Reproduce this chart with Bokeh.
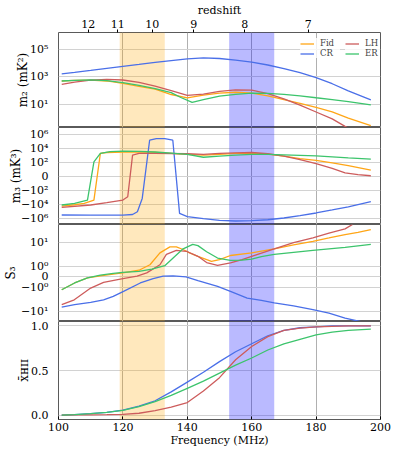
import numpy as np
from bokeh.plotting import figure
from bokeh.layouts import column
from bokeh.models import (Range1d, FixedTicker, BoxAnnotation, Legend,
                          LegendItem, LinearAxis, CustomJSTickFormatter)
from bokeh.embed import file_html
from bokeh.resources import INLINE

FONT = "DejaVu Serif"
C_FID, C_CR, C_LH, C_ER = "#ffa617", "#4a6fe8", "#cd5c5c", "#3cc46c"

# ---------------- data ----------------
# panel 1: m2 (mK^2)
f_m2_fid = [101, 105, 110, 115, 120, 125, 130, 135, 140, 145, 150, 155, 160, 165, 170, 175, 180, 185, 190, 197]
m2_fid = [500, 550, 575, 500, 331, 200, 126, 52, 30, 47, 66, 76, 66, 42, 22, 12, 6.0, 2.8, 1.0, 0.29]
f_m2_cr = [101, 105, 110, 115, 120, 125, 130, 135, 140, 145, 150, 155, 160, 165, 170, 175, 180, 185, 190, 197]
m2_cr = [1660, 2140, 2950, 4170, 5750, 7940, 11200, 15100, 20000, 24000, 21400, 16600, 11500, 7240, 3980, 2000, 891, 316, 95, 21]
f_m2_lh = [101, 105, 110, 115, 120, 125, 130, 135, 140, 145, 150, 155, 160, 165, 170, 175, 180, 185, 189, 191]
m2_lh = [288, 417, 575, 661, 589, 398, 209, 100, 45, 56, 89, 112, 107, 60, 25, 8.9, 2.8, 0.89, 0.25, 0.14]
f_m2_er = [101, 105, 110, 115, 120, 125, 130, 135, 138, 141.5, 145, 150, 155, 160, 165, 170, 175, 180, 185, 190, 197]
m2_er = [500, 562, 603, 525, 380, 240, 141, 71, 31.6, 14.1, 22.4, 39.8, 52.5, 64.6, 63.1, 53.7, 41.7, 30.2, 22.4, 15.8, 9.3]

# panel 2: m3 (mK^3)
f_m3_fid = [101, 105, 108, 111, 113, 115, 120, 125, 130, 135, 140, 145, 150, 155, 160, 165, 170, 175, 180, 185, 190, 197]
m3_fid = [-19500, -12600, -7940, -2690, 1740, 2400, 2820, 2950, 2510, 1780, 1260, 1000, 1260, 1740, 1740, 1410, 708, 316, 178, 79, 32, 8.6]
f_m3_cr = [101, 110, 120, 123, 124.5, 126, 128.3, 130.4, 133, 135.5, 137.6, 140, 145, 150, 155, 160, 165, 170, 175, 180, 185, 190, 197]
m3_cr = [-371000, -398000, -398000, -316000, -126000, -1580, 138000, 240000, 240000, 138000, -214000, -631000,
         -1.26e6, -2.24e6, -2.69e6, -2.4e6, -1.78e6, -1.0e6, -447000, -191000, -70800, -25100, -4680]
f_m3_lh = [101, 110, 115, 120, 121.5, 123, 125, 130, 140, 145, 150, 155, 160, 165, 170, 175, 180, 185, 189, 193, 197]
m3_lh = [-30200, -13800, -6460, -2690, -891, 1000, 1740, 1780, 1580, 1260, 1780, 2140, 2400, 1580, 708, 224, 63, 12.6, 4.7, 2.0, 0.5]
f_m3_er = [101, 105, 109, 111, 113, 116, 120, 125, 130, 135, 140, 145, 150, 155, 160, 165, 170, 175, 180, 185, 190, 197]
m3_er = [-13800, -7940, -2690, 110, 1740, 3160, 3720, 3550, 2820, 2000, 1260, 500, 708, 1000, 1260, 1260, 1120, 955, 794, 562, 398, 269]

# panel 3: S3
f_s3_fid = [101, 105, 109, 113, 117, 120, 125, 128.4, 131.5, 134.6, 136.6, 138.5, 140.7, 143.3, 147.5, 150, 153.4, 160, 167, 173, 179, 184, 189, 193, 197]
s3_fid = [-1.22, -0.56, -0.09, 0.11, 0.27, 0.38, 0.63, 1.16, 3.6, 6.4, 6.4, 5.1, 3.6, 2.6, 1.6, 1.9, 2.8, 3.6, 5.3, 7.7, 10.9, 15, 20.7, 25.5, 33.6]
f_s3_cr = [101, 105, 110, 114, 117, 120.2, 125.4, 129.4, 132.5, 135.6, 139.6, 143.3, 149.4, 153.4, 158.6, 163, 167, 173, 179, 184, 189, 194.4]
s3_cr = [-6.4, -5.1, -4.1, -3.2, -2.3, -1.43, -0.56, -0.16, 0.07, 0.11, 0.0, -0.34, -0.88, -1.43, -2.7, -3.4, -4.3, -5.7, -8.2, -11.4, -18.5, -26.7]
f_s3_lh = [101, 104.9, 110, 114, 120, 124.4, 127.4, 131.5, 133.5, 136.6, 139.7, 143.3, 146, 149.4, 153.4, 157, 160, 167, 173, 179, 184, 189, 191.3]
s3_lh = [-5.1, -3.2, -1.04, -0.5, -0.16, 0.07, 0.38, 1.16, 3.1, 4.6, 4.2, 2.6, 1.43, 1.09, 1.37, 1.9, 2.6, 5.3, 9.5, 15.3, 23.8, 36, 54.5]
f_s3_er = [101, 105, 109, 113, 117, 120, 125, 129, 133, 135.6, 138.7, 141.7, 143.3, 146, 149.4, 153.4, 157, 160, 163, 167, 173, 179, 184, 189, 197]
s3_er = [-1.22, -0.56, -0.09, 0.18, 0.34, 0.43, 0.52, 0.74, 1.06, 2.2, 5.3, 8.1, 7.2, 4.0, 2.2, 1.76, 1.8, 2.0, 2.5, 3.1, 3.8, 4.6, 5.3, 6.1, 8.1]

# panel 4: mean ionized fraction
f_x = [101, 105, 110, 115, 120, 125, 130, 135, 140, 145, 150, 155, 160, 165, 170, 175, 180, 185, 190, 197]
x_cr = [0.0, 0.005, 0.015, 0.03, 0.055, 0.1, 0.16, 0.26, 0.37, 0.48, 0.6, 0.71, 0.8, 0.89, 0.95, 0.98, 0.99, 1.0, 1.0, 1.0]
x_lh = [0.0, 0.001, 0.002, 0.004, 0.008, 0.02, 0.05, 0.09, 0.14, 0.27, 0.42, 0.62, 0.77, 0.88, 0.95, 0.975, 0.99, 0.995, 1.0, 1.0]
x_er = [0.0, 0.005, 0.015, 0.03, 0.053, 0.095, 0.15, 0.22, 0.30, 0.38, 0.47, 0.56, 0.64, 0.73, 0.80, 0.85, 0.9, 0.93, 0.95, 0.965]

# axis ticks / labels
freq_ticks = [100, 120, 140, 160, 180, 200]
z_ticks = [12, 11, 10, 9, 8, 7]
m2_ticks = [10, 1000, 100000]
m2_labels = ["10¹", "10³", "10⁵"]
m3_ticks = [-6, -4, -2, 0, 2, 4, 6]
m3_labels = ["−10⁶", "−10⁴", "−10²", "0", "10²", "10⁴", "10⁶"]
s3_ticks = [-13, -4, 0, 4, 13]
s3_labels = ["−10¹", "−10⁰", "0", "10⁰", "10¹"]
x_ticks = [0, 0.5, 1]
x_labels = ["0.0", "0.5", "1.0"]
orange_band = (119, 133)
blue_band = (153, 167)
NU21 = 1420.405751


def t_m3(v):
    v = np.asarray(v, float)
    a = np.abs(v)
    return np.where(a >= 10, np.sign(v) * np.log10(np.maximum(a, 1e-30)), v / 10.0)


def t_s3(v):
    v = np.asarray(v, float)
    a = np.abs(v)
    return np.where(a >= 1, np.sign(v) * (4 + 9 * np.log10(np.maximum(a, 1e-30))), 4 * v)


xr = Range1d(100, 200)
W = 395
common = dict(width=W, x_range=xr, output_backend="svg", toolbar_location=None,
              min_border_left=54, min_border_right=15)


def style(p, yt, ylabels, ylabel, standoff):
    p.outline_line_color = "#5a5a5a"
    p.outline_line_width = 1
    p.background_fill_color = "white"
    p.border_fill_color = "white"
    p.xgrid.grid_line_color = "#b0b0b0"
    p.ygrid.grid_line_color = "#d2d2d2"
    p.xaxis.ticker = FixedTicker(ticks=freq_ticks)
    p.yaxis.ticker = FixedTicker(ticks=yt)
    p.yaxis.major_label_overrides = {t: l for t, l in zip(yt, ylabels)}
    p.yaxis.axis_line_color = None
    p.yaxis.major_tick_line_color = None
    p.yaxis.minor_tick_line_color = None
    p.yaxis.major_label_standoff = 4
    p.yaxis.major_label_text_font = FONT
    p.yaxis.major_label_text_font_size = "11px"
    p.yaxis.major_label_text_color = "black"
    p.yaxis.axis_label = ylabel
    p.yaxis.axis_label_standoff = standoff
    p.yaxis.axis_label_text_font = FONT
    p.yaxis.axis_label_text_font_size = "12px"
    p.yaxis.axis_label_text_font_style = "normal"
    p.yaxis.axis_label_text_color = "black"
    for lo, hi, col, al in [(orange_band[0], orange_band[1], "#ffa500", 0.26),
                            (blue_band[0], blue_band[1], "#0000ff", 0.27)]:
        p.add_layout(BoxAnnotation(left=lo, right=hi, fill_color=col, fill_alpha=al,
                                   line_color=None, level="underlay"))


LW = 1.3

# ---------------- panel 1 ----------------
p1 = figure(height=127, y_axis_type="log", y_range=Range1d(10 ** -0.68, 10 ** 6.22),
            min_border_top=31, min_border_bottom=0, **common)
style(p1, m2_ticks, m2_labels, "m₂ (mK²)", -3)
p1.xaxis.visible = False
r_fid = p1.line(f_m2_fid, m2_fid, color=C_FID, line_width=LW)
r_cr = p1.line(f_m2_cr, m2_cr, color=C_CR, line_width=LW)
r_lh = p1.line(f_m2_lh, m2_lh, color=C_LH, line_width=LW)
r_er = p1.line(f_m2_er, m2_er, color=C_ER, line_width=LW)

top = LinearAxis(ticker=FixedTicker(ticks=[NU21 / (1 + z) for z in z_ticks]),
                 formatter=CustomJSTickFormatter(code="return String(Math.round(1420.405751/tick - 1));"))
top.axis_line_color = None
top.major_tick_in = 0
top.major_tick_out = 3
top.major_tick_line_color = "black"
top.minor_tick_line_color = None
top.major_label_standoff = 2
top.major_label_text_font = FONT
top.major_label_text_font_size = "11px"
top.major_label_text_color = "black"
top.axis_label = "redshift"
top.axis_label_standoff = 0
top.axis_label_text_font = FONT
top.axis_label_text_font_size = "11px"
top.axis_label_text_font_style = "normal"
top.axis_label_text_color = "black"
p1.add_layout(top, "above")

legA = Legend(items=[LegendItem(label="Fid", renderers=[r_fid]),
                     LegendItem(label="CR", renderers=[r_cr])], location=(242, 69))
legB = Legend(items=[LegendItem(label="LH", renderers=[r_lh]),
                     LegendItem(label="ER", renderers=[r_er])], location=(287, 69))
for lg in (legA, legB):
    lg.label_text_font = FONT
    lg.label_text_font_size = "8.5px"
    lg.label_height = 9
    lg.glyph_height = 9
    lg.glyph_width = 14
    lg.label_standoff = 6
    lg.spacing = 0
    lg.padding = 2
    lg.margin = 0
    lg.border_line_color = None
    lg.background_fill_alpha = 0.8
    p1.add_layout(lg)

# ---------------- panel 2 ----------------
p2 = figure(height=97, y_range=Range1d(-6.93, 6.96), min_border_top=0, min_border_bottom=0, **common)
style(p2, m3_ticks, m3_labels, "m₃ (mK³)", -5)
p2.xaxis.visible = False
p2.line(f_m3_fid, t_m3(m3_fid), color=C_FID, line_width=LW)
p2.line(f_m3_cr, t_m3(m3_cr), color=C_CR, line_width=LW)
p2.line(f_m3_lh, t_m3(m3_lh), color=C_LH, line_width=LW)
p2.line(f_m3_er, t_m3(m3_er), color=C_ER, line_width=LW)

# ---------------- panel 3 ----------------
p3 = figure(height=97, y_range=Range1d(-16.65, 19.62), min_border_top=0, min_border_bottom=0, **common)
style(p3, s3_ticks, s3_labels, "S₃", 0)
p3.xaxis.visible = False
p3.line(f_s3_fid, t_s3(s3_fid), color=C_FID, line_width=LW)
p3.line(f_s3_cr, t_s3(s3_cr), color=C_CR, line_width=LW)
p3.line(f_s3_lh, t_s3(s3_lh), color=C_LH, line_width=LW)
p3.line(f_s3_er, t_s3(s3_er), color=C_ER, line_width=LW)

# ---------------- panel 4 ----------------
p4 = figure(height=132, y_range=Range1d(-0.05, 1.05), min_border_top=0, min_border_bottom=34, **common)
style(p4, x_ticks, x_labels, "x̄ʜɪɪ", -3)
p4.line(f_x, x_cr, color=C_CR, line_width=LW)
p4.line(f_x, x_lh, color=C_LH, line_width=LW)
p4.line(f_x, x_er, color=C_ER, line_width=LW)
ax = p4.xaxis[0]
ax.axis_line_color = None
ax.major_tick_in = 3
ax.major_tick_out = 0
ax.major_tick_line_color = "black"
ax.minor_tick_line_color = None
ax.major_label_standoff = 3
ax.major_label_text_font = FONT
ax.major_label_text_font_size = "11px"
ax.major_label_text_color = "black"
ax.axis_label = "Frequency (MHz)"
ax.axis_label_standoff = 0
ax.axis_label_text_font = FONT
ax.axis_label_text_font_size = "11px"
ax.axis_label_text_font_style = "normal"
ax.axis_label_text_color = "black"

layout = column(p1, p2, p3, p4)
open("out.html", "w").write(file_html(layout, INLINE))
